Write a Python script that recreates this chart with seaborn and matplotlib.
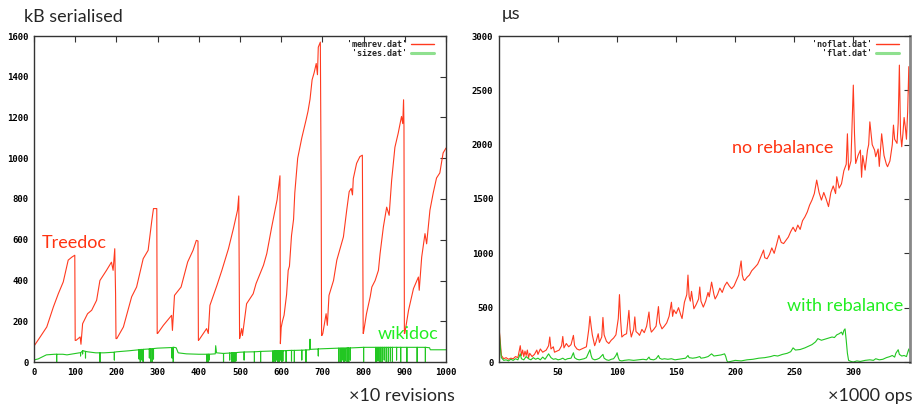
import numpy as np
import pandas as pd
import matplotlib
matplotlib.use("Agg")
import matplotlib.pyplot as plt
import seaborn as sns
from matplotlib.lines import Line2D
from matplotlib.patches import Rectangle

# ---------------- data: left chart (kB serialised vs x10 revisions) ----------------
memrev_x = [0, 15, 31, 47, 59, 71, 83, 92, 99,
            100, 102, 112, 114, 118, 130, 140, 152, 160, 176, 188, 192, 196, 198, 199,
            201, 217, 237, 249, 265, 277, 286, 290, 298, 299,
            300, 314, 334, 336, 341, 357, 373, 386, 394, 398, 399,
            401, 419, 423, 427, 444, 456, 472, 484, 494, 497, 499,
            500, 504, 506, 516, 532, 539, 557, 565, 577, 585, 590, 597,
            598, 600, 603, 607, 610, 613, 617, 620, 625, 630, 633, 640, 650, 660, 665, 670,
            675, 680, 685, 688, 690, 695, 697, 698,
            699, 701, 709, 712, 716, 727, 735, 751, 759, 765, 770, 773, 775, 783, 791, 797, 799,
            800, 807, 816, 820, 828, 836, 840, 848, 856, 862, 868, 876, 884, 892, 895, 897, 898, 899,
            900, 909, 921, 933, 935, 941, 949, 953, 961, 969, 977, 985, 993, 1000]
memrev_y = [78, 123, 172, 270, 335, 393, 500, 515, 524,
            106, 106, 123, 87, 188, 237, 254, 303, 400, 450, 490, 450, 556, 335, 115,
            115, 172, 320, 368, 507, 548, 695, 753, 753, 140,
            140, 180, 229, 155, 327, 368, 491, 548, 597, 594, 106,
            110, 164, 140, 278, 376, 450, 556, 655, 745, 815, 115,
            123, 164, 130, 286, 335, 385, 475, 532, 663, 745, 796, 914,
            90, 170, 200, 230, 280, 330, 450, 470, 620, 700, 830, 1000, 1100, 1185, 1230, 1290,
            1385, 1420, 1465, 1410, 1545, 1570, 850, 130,
            130, 140, 237, 180, 327, 400, 500, 614, 745, 836, 852, 820, 900, 975, 1008, 1015, 140,
            147, 237, 320, 368, 400, 450, 532, 663, 760, 720, 890, 1054, 1123, 1205, 1170, 1287, 1155, 140,
            140, 253, 360, 417, 352, 515, 630, 580, 745, 830, 903, 928, 1026, 1050]

# 'sizes.dat': slowly varying level plus many short downward dips
sizes_base_x = [0, 10, 20, 30, 50, 70, 80, 95, 110, 120, 130, 150, 170, 200, 230, 260, 300, 340, 345,
                350, 370, 400, 440, 441, 443, 460, 500, 550, 600, 650, 669, 670, 671, 700, 750, 800,
                850, 900, 960, 962, 1000]
sizes_base_y = [10, 15, 25, 35, 38, 38, 35, 40, 45, 55, 50, 45, 45, 50, 55, 62, 68, 72, 70,
                45, 40, 38, 40, 80, 45, 42, 48, 52, 55, 58, 60, 112, 62, 65, 68, 72,
                72, 72, 70, 60, 60]
sizes_dip_x = [55, 113, 118, 125, 160, 195, 255, 258, 262, 265, 280, 283, 287, 290, 335, 338,
               420, 423, 425, 460, 475, 480, 483, 487, 490, 510, 535, 550, 580, 583, 586, 589,
               592, 595, 598, 601, 604, 612, 625, 632, 650, 660, 690, 740, 745, 748, 752, 755,
               760, 764, 768, 800, 830, 835, 840, 845, 850, 855, 860, 865, 870, 880, 890, 905,
               930, 950]
sizes_dip_low = [0, 30, 40, 20, 0, 10, 15, 0, 10, 0, 20, 0, 0, 15, 20, 0,
                 0, 0, 10, 0, 10, 0, 0, 0, 5, 10, 0, 0, 0, 5, 0, 10,
                 0, 0, 10, 0, 5, 0, 5, 0, 10, 0, 30, 0, 0, 10, 0, 5,
                 0, 0, 10, 0, 0, 5, 0, 0, 10, 0, 0, 5, 0, 10, 0, 0,
                 0, 0]
sizes_dip_top = [38, 45, 55, 52, 45, 48, 60, 60, 61, 62, 64, 64, 65, 66, 71, 72,
                 38, 38, 38, 42, 44, 45, 45, 45, 46, 49, 50, 52, 54, 54, 55, 55,
                 55, 55, 55, 55, 55, 56, 57, 57, 58, 59, 64, 68, 68, 68, 68, 68,
                 69, 69, 69, 72, 72, 72, 72, 72, 72, 72, 72, 72, 72, 72, 72, 72,
                 72, 72]

# ---------------- data: right chart (microseconds vs x1000 ops) ----------------
noflat_x = [0, 1, 2, 4, 6, 8, 10, 12, 14, 16, 18, 19, 20, 21, 22, 23, 24, 25, 26, 28, 30, 32, 33, 35,
            37, 40, 42, 43, 44, 46, 47, 49, 51, 53, 54, 55, 57, 59, 61, 63, 64, 66, 68, 70, 72, 74,
            76, 77, 78, 79, 80, 81, 82, 84, 85, 87, 88, 89, 91, 93, 95, 97, 99, 101, 102, 103, 104,
            106, 108, 110, 111, 112, 114, 115, 116, 118, 119, 121, 123, 125, 127, 128, 129, 131, 133,
            135, 136, 138, 140, 142, 144, 146, 147, 148, 150, 152, 154, 155, 157, 159, 160, 161, 162,
            163, 165, 167, 169, 170, 171, 173, 175, 177, 178, 180, 182, 183, 185, 187, 189, 191, 193,
            195, 197, 199, 201, 203, 205, 206, 207, 208, 210, 212, 214, 217, 219, 221, 224, 225, 227,
            229, 231, 233, 235, 237, 239, 241, 243, 245, 247, 249, 251, 253, 255, 257, 259, 261, 263,
            265, 267, 269, 271, 273, 275, 277, 279, 281, 283, 285, 286, 288, 290, 292, 294, 295, 296,
            298, 300, 301, 302, 304, 306, 307, 308, 310, 312, 313, 314, 316, 318, 319, 321, 322, 324,
            326, 328, 329, 331, 333, 334, 335, 337, 338, 339, 340, 341, 342, 343, 344, 345, 346, 347, 348]
noflat_y = [320, 200, 60, 30, 40, 25, 35, 30, 50, 40, 150, 60, 110, 50, 100, 60, 110, 40, 80, 50, 70,
            110, 70, 120, 90, 110, 150, 230, 120, 140, 90, 100, 110, 150, 235, 130, 170, 140, 160,
            245, 150, 120, 110, 120, 130, 140, 300, 420, 330, 250, 200, 150, 180, 260, 180, 230, 410,
            250, 190, 170, 200, 220, 250, 400, 620, 380, 230, 250, 260, 475, 300, 230, 300, 415, 280,
            260, 245, 300, 270, 330, 460, 320, 275, 300, 330, 510, 360, 305, 330, 360, 420, 550, 420,
            480, 445, 500, 430, 400, 550, 620, 800, 600, 560, 650, 490, 530, 580, 690, 560, 505, 560,
            640, 600, 735, 620, 580, 620, 680, 640, 700, 735, 700, 675, 700, 750, 800, 930, 800, 760,
            750, 780, 800, 840, 875, 900, 950, 1030, 960, 950, 990, 1050, 1000, 1080, 1165, 1100,
            1090, 1120, 1150, 1200, 1240, 1200, 1260, 1220, 1300, 1335, 1380, 1444, 1490, 1550, 1674,
            1560, 1490, 1560, 1500, 1430, 1560, 1620, 1550, 1705, 1600, 1640, 1760, 1820, 2100, 1766,
            1850, 2548, 2100, 1827, 1900, 1950, 1700, 1900, 1766, 1950, 2000, 2210, 2000, 1950, 1889,
            1960, 1800, 2100, 1900, 1820, 1797, 1850, 2000, 2180, 2050, 2012, 2200, 2732, 2100, 1981,
            2100, 2250, 2165, 2050, 2300, 2718, 2288]

flat_x = [0, 1, 2, 4, 6, 8, 10, 12, 14, 16, 18, 19, 21, 23, 25, 27, 29, 31, 33, 35, 37, 39, 42, 44,
          46, 48, 50, 52, 54, 56, 58, 61, 63, 64, 66, 68, 70, 72, 74, 76, 77, 78, 79, 81, 83, 85, 88,
          89, 91, 93, 95, 97, 99, 100, 101, 102, 104, 106, 110, 114, 118, 122, 125, 127, 128, 131,
          133, 135, 136, 138, 140, 143, 146, 149, 152, 155, 158, 160, 161, 164, 167, 170, 171, 174,
          177, 180, 182, 185, 188, 191, 192, 193, 194, 196, 198, 200, 205, 210, 215, 220, 225, 230,
          233, 236, 240, 244, 247, 249, 251, 255, 259, 262, 265, 268, 270, 273, 276, 279, 282, 284,
          286, 288, 290, 291, 292, 293, 294, 295, 296, 298, 300, 303, 306, 310, 314, 317, 319, 322,
          325, 328, 331, 333, 335, 336, 338, 339, 341, 343, 345, 347, 348]
flat_y = [320, 150, 40, 15, 20, 10, 25, 15, 30, 20, 75, 30, 20, 50, 30, 20, 40, 25, 35, 20, 45, 25,
          75, 40, 25, 30, 20, 25, 35, 20, 30, 35, 85, 40, 25, 20, 25, 30, 40, 90, 113, 60, 30, 20, 25,
          35, 70, 35, 20, 15, 25, 30, 60, 85, 40, 15, 10, 15, 20, 15, 20, 25, 20, 45, 25, 20, 30, 60,
          35, 25, 30, 25, 30, 20, 25, 30, 35, 60, 40, 35, 40, 50, 35, 40, 50, 75, 55, 60, 65, 75, 50,
          10, 0, 5, 10, 15, 10, 20, 25, 35, 40, 50, 60, 55, 70, 80, 95, 130, 110, 115, 130, 145, 160,
          185, 215, 200, 210, 220, 230, 225, 250, 260, 275, 250, 290, 305, 200, 80, 15, 5, 0, 10, 5,
          15, 20, 15, 30, 20, 25, 40, 50, 60, 45, 80, 113, 70, 55, 60, 50, 120, 80]

left_xticks = [0, 100, 200, 300, 400, 500, 600, 700, 800, 900, 1000]
left_yticks = [0, 200, 400, 600, 800, 1000, 1200, 1400, 1600]
right_xticks = [50, 100, 150, 200, 250, 300]
right_yticks = [0, 500, 1000, 1500, 2000, 2500, 3000]

# ---------------- build the sizes series (level points + vertical dips) ----------------
pts = [(x, 0, 0, y) for x, y in zip(sizes_base_x, sizes_base_y)]
for x, lo, top in zip(sizes_dip_x, sizes_dip_low, sizes_dip_top):
    pts += [(x, 1, 0, top), (x, 1, 1, lo), (x, 1, 2, top)]
pts.sort(key=lambda p: (p[0], p[1], p[2]))
dfL2 = pd.DataFrame({"x": [p[0] for p in pts], "y": [p[3] for p in pts]})

# ---------------- styling ----------------
sns.set_style("white")
RED = "#ff3a1f"
GREEN = "#22c722"
TXT_RED = "#ff3311"
TXT_GREEN = "#22ee22"
LBL_FONT = "Lato"

fig = plt.figure(figsize=(9.15, 4.07), dpi=100)
W, H = 915.0, 407.0
axL = fig.add_axes([34 / W, 1 - 362 / H, (446 - 34) / W, (362 - 36) / H])
axR = fig.add_axes([499 / W, 1 - 362 / H, (910 - 499) / W, (362 - 36) / H])

dfL1 = pd.DataFrame({"x": memrev_x, "y": memrev_y})
dfR1 = pd.DataFrame({"x": noflat_x, "y": noflat_y})
dfR2 = pd.DataFrame({"x": flat_x, "y": flat_y})

sns.lineplot(data=dfL1, x="x", y="y", ax=axL, color=RED, lw=0.8, sort=False, estimator=None)
sns.lineplot(data=dfL2, x="x", y="y", ax=axL, color=GREEN, lw=0.8, sort=False, estimator=None)
sns.lineplot(data=dfR1, x="x", y="y", ax=axR, color=RED, lw=0.8, sort=False, estimator=None)
sns.lineplot(data=dfR2, x="x", y="y", ax=axR, color=GREEN, lw=0.8, sort=False, estimator=None)

tick_font = dict(family="DejaVu Sans Mono", weight="bold", size=6.5)
for ax, xl, yl, xt, yt in [(axL, (0, 1000), (0, 1600), left_xticks, left_yticks),
                           (axR, (0, 348), (0, 3000), right_xticks, right_yticks)]:
    ax.set_xlim(*xl)
    ax.set_ylim(*yl)
    ax.set_xticks(xt)
    ax.set_yticks(yt)
    ax.set_xticklabels([str(v) for v in xt], fontdict=tick_font)
    ax.set_yticklabels([str(v) for v in yt], fontdict=tick_font)
    ax.set_xlabel("")
    ax.set_ylabel("")
    ax.tick_params(direction="in", top=True, right=True, length=4, width=0.8,
                   color="#333333", pad=4, labelcolor="black")
    for s in ax.spines.values():
        s.set_visible(True)
        s.set_color("#333333")
        s.set_linewidth(1.0)
axR.spines["right"].set_color("#888888")
axR.spines["right"].set_linewidth(2.0)

legend_font = dict(family="DejaVu Sans Mono", weight="bold", size=6)
axL.legend(handles=[Line2D([], [], color=RED, lw=1.0), Line2D([], [], color="#8fe08f", lw=2.2)],
           labels=["'memrev.dat'", " 'sizes.dat'"], loc="upper right",
           bbox_to_anchor=(1 - 8 / 412, 1), frameon=False,
           markerfirst=False, prop=legend_font, handlelength=2.8, handletextpad=0.5,
           labelspacing=0.05, borderaxespad=0.15, borderpad=0.3)
axR.legend(handles=[Line2D([], [], color=RED, lw=1.0), Line2D([], [], color="#8fe08f", lw=2.2)],
           labels=["'noflat.dat'", "  'flat.dat'"], loc="upper right",
           bbox_to_anchor=(1 - 7 / 411, 1), frameon=False,
           markerfirst=False, prop=legend_font, handlelength=2.8, handletextpad=0.5,
           labelspacing=0.05, borderaxespad=0.15, borderpad=0.3)

# annotations
axL.text(19, 584, "Treedoc", color=TXT_RED, fontsize=13, family=LBL_FONT, va="center", ha="left")
axL.text(835, 137, "wikidoc", color=TXT_GREEN, fontsize=13, family=LBL_FONT, va="center", ha="left")
axR.text(197, 1969, "no rebalance", color=TXT_RED, fontsize=13, family=LBL_FONT, va="center", ha="left")
axR.text(244, 515, "with rebalance", color=TXT_GREEN, fontsize=13, family=LBL_FONT, va="center", ha="left")

fig.text(24 / W, 1 - 17 / H, "kB serialised", fontsize=13, family=LBL_FONT, va="center", ha="left")
fig.text(502 / W, 1 - 14 / H, "μs", fontsize=13, family=LBL_FONT, va="center", ha="left")
fig.text(455 / W, 1 - 396 / H, "×10 revisions", fontsize=13, family=LBL_FONT, va="center", ha="right")
fig.text(913 / W, 1 - 396 / H, "×1000 ops", fontsize=13, family=LBL_FONT, va="center", ha="right")

# the right panel's border cuts the last left x tick label as in the reference
fig.patches.append(Rectangle((456 / W, 1 - 375 / H), 12 / W, 14 / H, transform=fig.transFigure,
                             facecolor="white", edgecolor="none", zorder=5))

fig.savefig("out.png", dpi=100, facecolor="white")
